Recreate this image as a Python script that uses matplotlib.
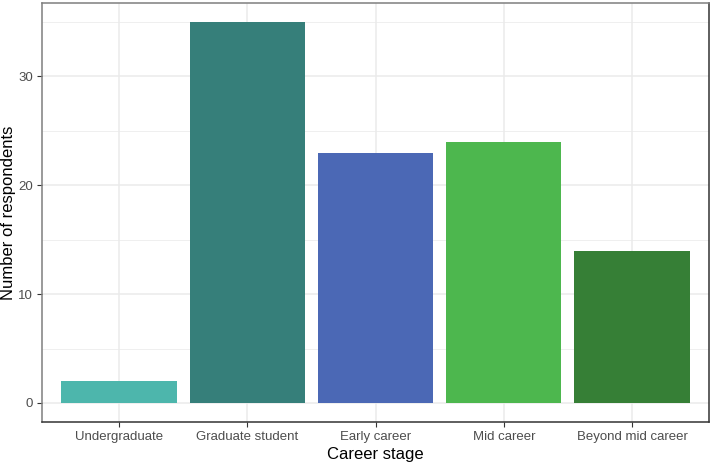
import matplotlib.pyplot as plt

plt.rcParams['font.family'] = ['Liberation Sans', 'DejaVu Sans']

# Dane
stages = ['Undergraduate', 'Graduate student', 'Early career', 'Mid career', 'Beyond mid career']
counts = [2, 35, 23, 24, 14]
colors = ['#4DB6AC', '#367F7A', '#4B68B5', '#4DB74E', '#367F36']

fig = plt.figure(figsize=(7.12, 4.62), dpi=100)
ax = fig.add_axes([0.059, 0.0866, 0.9368, 0.9069])

x = list(range(1, len(stages) + 1))
ax.bar(x, counts, width=0.9, color=colors, zorder=3)

ax.set_xlim(0.4, 5.6)
ax.set_ylim(-1.75, 36.75)
ax.set_xticks(x)
ax.set_xticklabels(stages)
ax.set_yticks([0, 10, 20, 30])
ax.set_yticks([5, 15, 25, 35], minor=True)

# Siatka w stylu theme_bw
ax.grid(True, which='major', color='#EBEBEB', linewidth=1.1, zorder=0)
ax.grid(True, which='minor', axis='y', color='#EBEBEB', linewidth=0.55, zorder=0)
ax.tick_params(which='minor', length=0)
ax.tick_params(which='major', length=3.5, width=0.8, color='#333333',
               labelsize=9.5, labelcolor='#4D4D4D', pad=3)

ax.spines['left'].set_color('#7F7F7F')
ax.spines['top'].set_color('#7F7F7F')
ax.spines['bottom'].set_color('#333333')
ax.spines['right'].set_color('#333333')
for s in ax.spines.values():
    s.set_linewidth(1.1)

ax.set_xlabel('Career stage', fontsize=12, labelpad=3)
ax.set_ylabel('Number of respondents', fontsize=12)
ax.yaxis.set_label_coords(-0.039, 0.5)

fig.savefig('out.png', dpi=100)
